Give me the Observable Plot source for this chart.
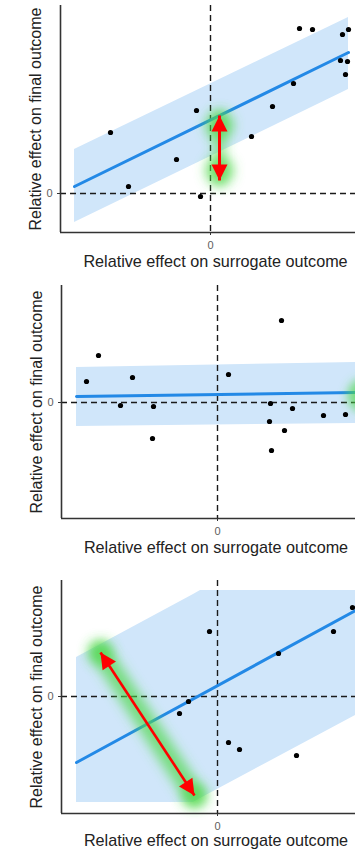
<!DOCTYPE html>
<html>
<head>
<meta charset="utf-8">
<script src="https://cdn.jsdelivr.net/npm/d3@7"></script>
<script src="https://cdn.jsdelivr.net/npm/@observablehq/plot@0.6"></script>
<style>
  html, body { margin: 0; padding: 0; background: #fff; }
  #chart { position: relative; width: 355px; height: 850px; overflow: hidden; background: #fff; }
  #chart svg { position: absolute; left: 0; }
</style>
</head>
<body>
<div id="chart"></div>
<script>
// ---------- text ----------
const xTitle = "Relative effect on surrogate outcome";
const yTitle = "Relative effect on final outcome";
const zeroTicks = [0];

// ---------- panel 1 ----------
const p1PointX = [-1.00, -0.82, -0.34, -0.14, -0.10, 0.41, 0.62, 0.83, 0.89, 1.02, 1.32, 1.38, 1.30, 1.37, 1.35];
const p1PointY = [0.61, 0.07, 0.34, 0.83, -0.03, 0.57, 0.87, 1.10, 1.65, 1.64, 1.59, 1.64, 1.33, 1.32, 1.19];
const p1LineX = [-1.36, 1.38];
const p1LineY = [0.07, 1.41];
const p1BandX = [-1.36, 1.38];
const p1BandLow = [-0.29, 1.04];
const p1BandHigh = [0.44, 1.76];
const p1ArrowX = [0.09, 0.09];
const p1ArrowY = [0.78, 0.13];
const p1GlowX = [0.09, 0.09];
const p1GlowY = [0.68, 0.23];

// ---------- panel 2 ----------
const p2PointX = [-1.31, -1.19, -0.97, -0.85, -0.64, -0.65, 0.11, 0.64, 0.53, 0.52, 0.54, 0.67, 0.75, 1.06, 1.28];
const p2PointY = [0.21, 0.47, -0.03, 0.25, -0.04, -0.36, 0.28, 0.82, -0.01, -0.19, -0.48, -0.28, -0.06, -0.13, -0.12];
const p2LineX = [-1.41, 1.38];
const p2LineY = [0.06, 0.10];
const p2BandX = [-1.41, 1.38];
const p2BandLow = [-0.24, -0.21];
const p2BandHigh = [0.35, 0.40];
const p2GlowX = [1.47];
const p2GlowY = [0.07];

// ---------- panel 3 ----------
const p3PointX = [-0.08, 1.35, 1.16, 0.61, -0.29, -0.38, 0.11, 0.22, 0.79];
const p3PointY = [0.65, 0.89, 0.65, 0.43, -0.05, -0.17, -0.46, -0.53, -0.59];
const p3LineX = [-1.41, 1.38];
const p3LineY = [-0.66, 0.86];
const p3BandX = [-1.41, -0.24, -0.17, 1.38];
const p3BandLow = [-1.06, -1.06, -1.02, -0.19];
const p3BandHigh = [0.39, 1.02, 1.06, 1.06];
const p3ArrowX = [-1.17, -0.23];
const p3ArrowY = [0.44, -0.99];

const FONT = "'Liberation Sans', Arial, Helvetica, sans-serif";
const BAND = "#d0e6fa";
const LINE = "#2389e6";
const GLOW = "#4fd84a";
const RED = "#ff0000";

function zip(xs, ys) { return xs.map((x, i) => ({x, y: ys[i]})); }

function panel(cfg, idx) {
  const W = 355;
  const points = zip(cfg.pointX, cfg.pointY);
  const line = zip(cfg.lineX, cfg.lineY);
  const band = cfg.bandX.map((x, i) => ({x, lo: cfg.bandLow[i], hi: cfg.bandHigh[i]}));
  const kx = (W - cfg.left) / (cfg.xDomain[1] - cfg.xDomain[0]);
  const ky = (cfg.height - cfg.top - cfg.bottom) / (cfg.yDomain[1] - cfg.yDomain[0]);

  const marks = [
    Plot.areaY(band, {x: "x", y1: "lo", y2: "hi", fill: BAND}),
    Plot.ruleY(zeroTicks, {stroke: "#1a1a1a", strokeWidth: 1.4, strokeDasharray: "6,4"}),
    Plot.ruleX(zeroTicks, {stroke: "#1a1a1a", strokeWidth: 1.4, strokeDasharray: "6,4"}),
    Plot.line(line, {x: "x", y: "y", stroke: LINE, strokeWidth: 3})
  ];

  if (cfg.glowDotsX) {
    marks.push(Plot.dot(zip(cfg.glowDotsX, cfg.glowDotsY), {x: "x", y: "y", r: cfg.glowR, fill: GLOW, fillOpacity: 0.7, stroke: "none"}));
  }
  if (cfg.arrowX && cfg.glowStroke) {
    const a = {x1: cfg.arrowX[0], y1: cfg.arrowY[0], x2: cfg.arrowX[1], y2: cfg.arrowY[1]};
    marks.push(Plot.link([a], {x1: "x1", y1: "y1", x2: "x2", y2: "y2", stroke: GLOW, strokeOpacity: 0.7, strokeWidth: cfg.glowStroke, strokeLinecap: "round"}));
  }

  marks.push(Plot.dot(points, {x: "x", y: "y", r: 2.6, fill: "#000", stroke: "none"}));

  if (cfg.arrowX) {
    const a = {x1: cfg.arrowX[0], y1: cfg.arrowY[0], x2: cfg.arrowX[1], y2: cfg.arrowY[1]};
    const dxs = (a.x2 - a.x1) * kx;
    const dys = -(a.y2 - a.y1) * ky;
    const ang = Math.atan2(dxs, -dys) * 180 / Math.PI;
    const heads = [
      {x: a.x2, y: a.y2, rot: ang},
      {x: a.x1, y: a.y1, rot: ang + 180}
    ];
    marks.push(Plot.link([a], {x1: "x1", y1: "y1", x2: "x2", y2: "y2", stroke: RED, strokeWidth: cfg.arrowWidth}));
    marks.push(Plot.vector(heads, {x: "x", y: "y", rotate: "rot", length: 16, r: 8, shape: "spike", anchor: "end", fill: RED, stroke: "none"}));
  }

  marks.push(
    Plot.ruleX([cfg.xDomain[0]], {stroke: "#333", strokeWidth: 1.6}),
    Plot.ruleY([cfg.yDomain[0]], {stroke: "#333", strokeWidth: 1.6}),
    Plot.axisX(zeroTicks, {tickSize: 3, tickPadding: 6, fontSize: 11, stroke: "#333", fill: "#5e5e5e", label: null, tickFormat: d => String(d)}),
    Plot.axisY(zeroTicks, {tickSize: 3, tickPadding: 5, fontSize: 11, stroke: "#333", fill: "#5e5e5e", label: null, tickFormat: d => String(d)}),
    Plot.text([xTitle], {text: d => d, frameAnchor: "bottom", textAnchor: "middle", lineAnchor: "middle", dx: 7.5, dy: cfg.xTitleDy, fontSize: 16.2, fill: "#222"}),
    Plot.text([yTitle], {text: d => d, frameAnchor: "left", textAnchor: "middle", lineAnchor: "middle", rotate: -90, dx: -25, fontSize: 16, fill: "#222"})
  );

  const svg = Plot.plot({
    width: W,
    height: cfg.height,
    marginLeft: cfg.left,
    marginRight: 0,
    marginTop: cfg.top,
    marginBottom: cfg.bottom,
    x: {domain: cfg.xDomain, label: null},
    y: {domain: cfg.yDomain, label: null},
    style: {fontFamily: FONT, background: "transparent", overflow: "visible"},
    marks
  });

  const s = d3.select(svg);
  const id = "glowblur" + idx;
  s.insert("defs", ":first-child")
    .append("filter").attr("id", id)
    .attr("filterUnits", "userSpaceOnUse")
    .attr("x", -50).attr("y", -50).attr("width", W + 100).attr("height", cfg.height + 100)
    .append("feGaussianBlur").attr("stdDeviation", cfg.blur);
  s.selectAll("g").filter(function() {
    const f = (this.getAttribute("fill") || "").toLowerCase();
    const st = (this.getAttribute("stroke") || "").toLowerCase();
    return f === GLOW || st === GLOW;
  }).attr("filter", `url(#${id})`);
  svg.style.top = cfg.offset + "px";
  return svg;
}

const chart = document.getElementById("chart");

chart.appendChild(panel({
  offset: 0, height: 280, top: 5, bottom: 48, left: 60,
  xDomain: [-1.50, 1.45], yDomain: [-0.39, 1.88],
  pointX: p1PointX, pointY: p1PointY,
  lineX: p1LineX, lineY: p1LineY,
  bandX: p1BandX, bandLow: p1BandLow, bandHigh: p1BandHigh,
  arrowX: p1ArrowX, arrowY: p1ArrowY, arrowWidth: 3,
  glowDotsX: p1GlowX, glowDotsY: p1GlowY, glowR: 14, glowStroke: 10, blur: 6,
  xTitleDy: 29
}, 1));

chart.appendChild(panel({
  offset: 280, height: 285, top: 5, bottom: 47, left: 61,
  xDomain: [-1.56, 1.38], yDomain: [-1.16, 1.17],
  pointX: p2PointX, pointY: p2PointY,
  lineX: p2LineX, lineY: p2LineY,
  bandX: p2BandX, bandLow: p2BandLow, bandHigh: p2BandHigh,
  glowDotsX: p2GlowX, glowDotsY: p2GlowY, glowR: 17, blur: 5,
  xTitleDy: 29
}, 2));

chart.appendChild(panel({
  offset: 565, height: 285, top: 15, bottom: 37, left: 61,
  xDomain: [-1.56, 1.38], yDomain: [-1.17, 1.16],
  pointX: p3PointX, pointY: p3PointY,
  lineX: p3LineX, lineY: p3LineY,
  bandX: p3BandX, bandLow: p3BandLow, bandHigh: p3BandHigh,
  arrowX: p3ArrowX, arrowY: p3ArrowY, arrowWidth: 2.6,
  glowDotsX: p3ArrowX, glowDotsY: p3ArrowY, glowR: 12, glowStroke: 20, blur: 6,
  xTitleDy: 27
}, 3));
</script>
</body>
</html>
